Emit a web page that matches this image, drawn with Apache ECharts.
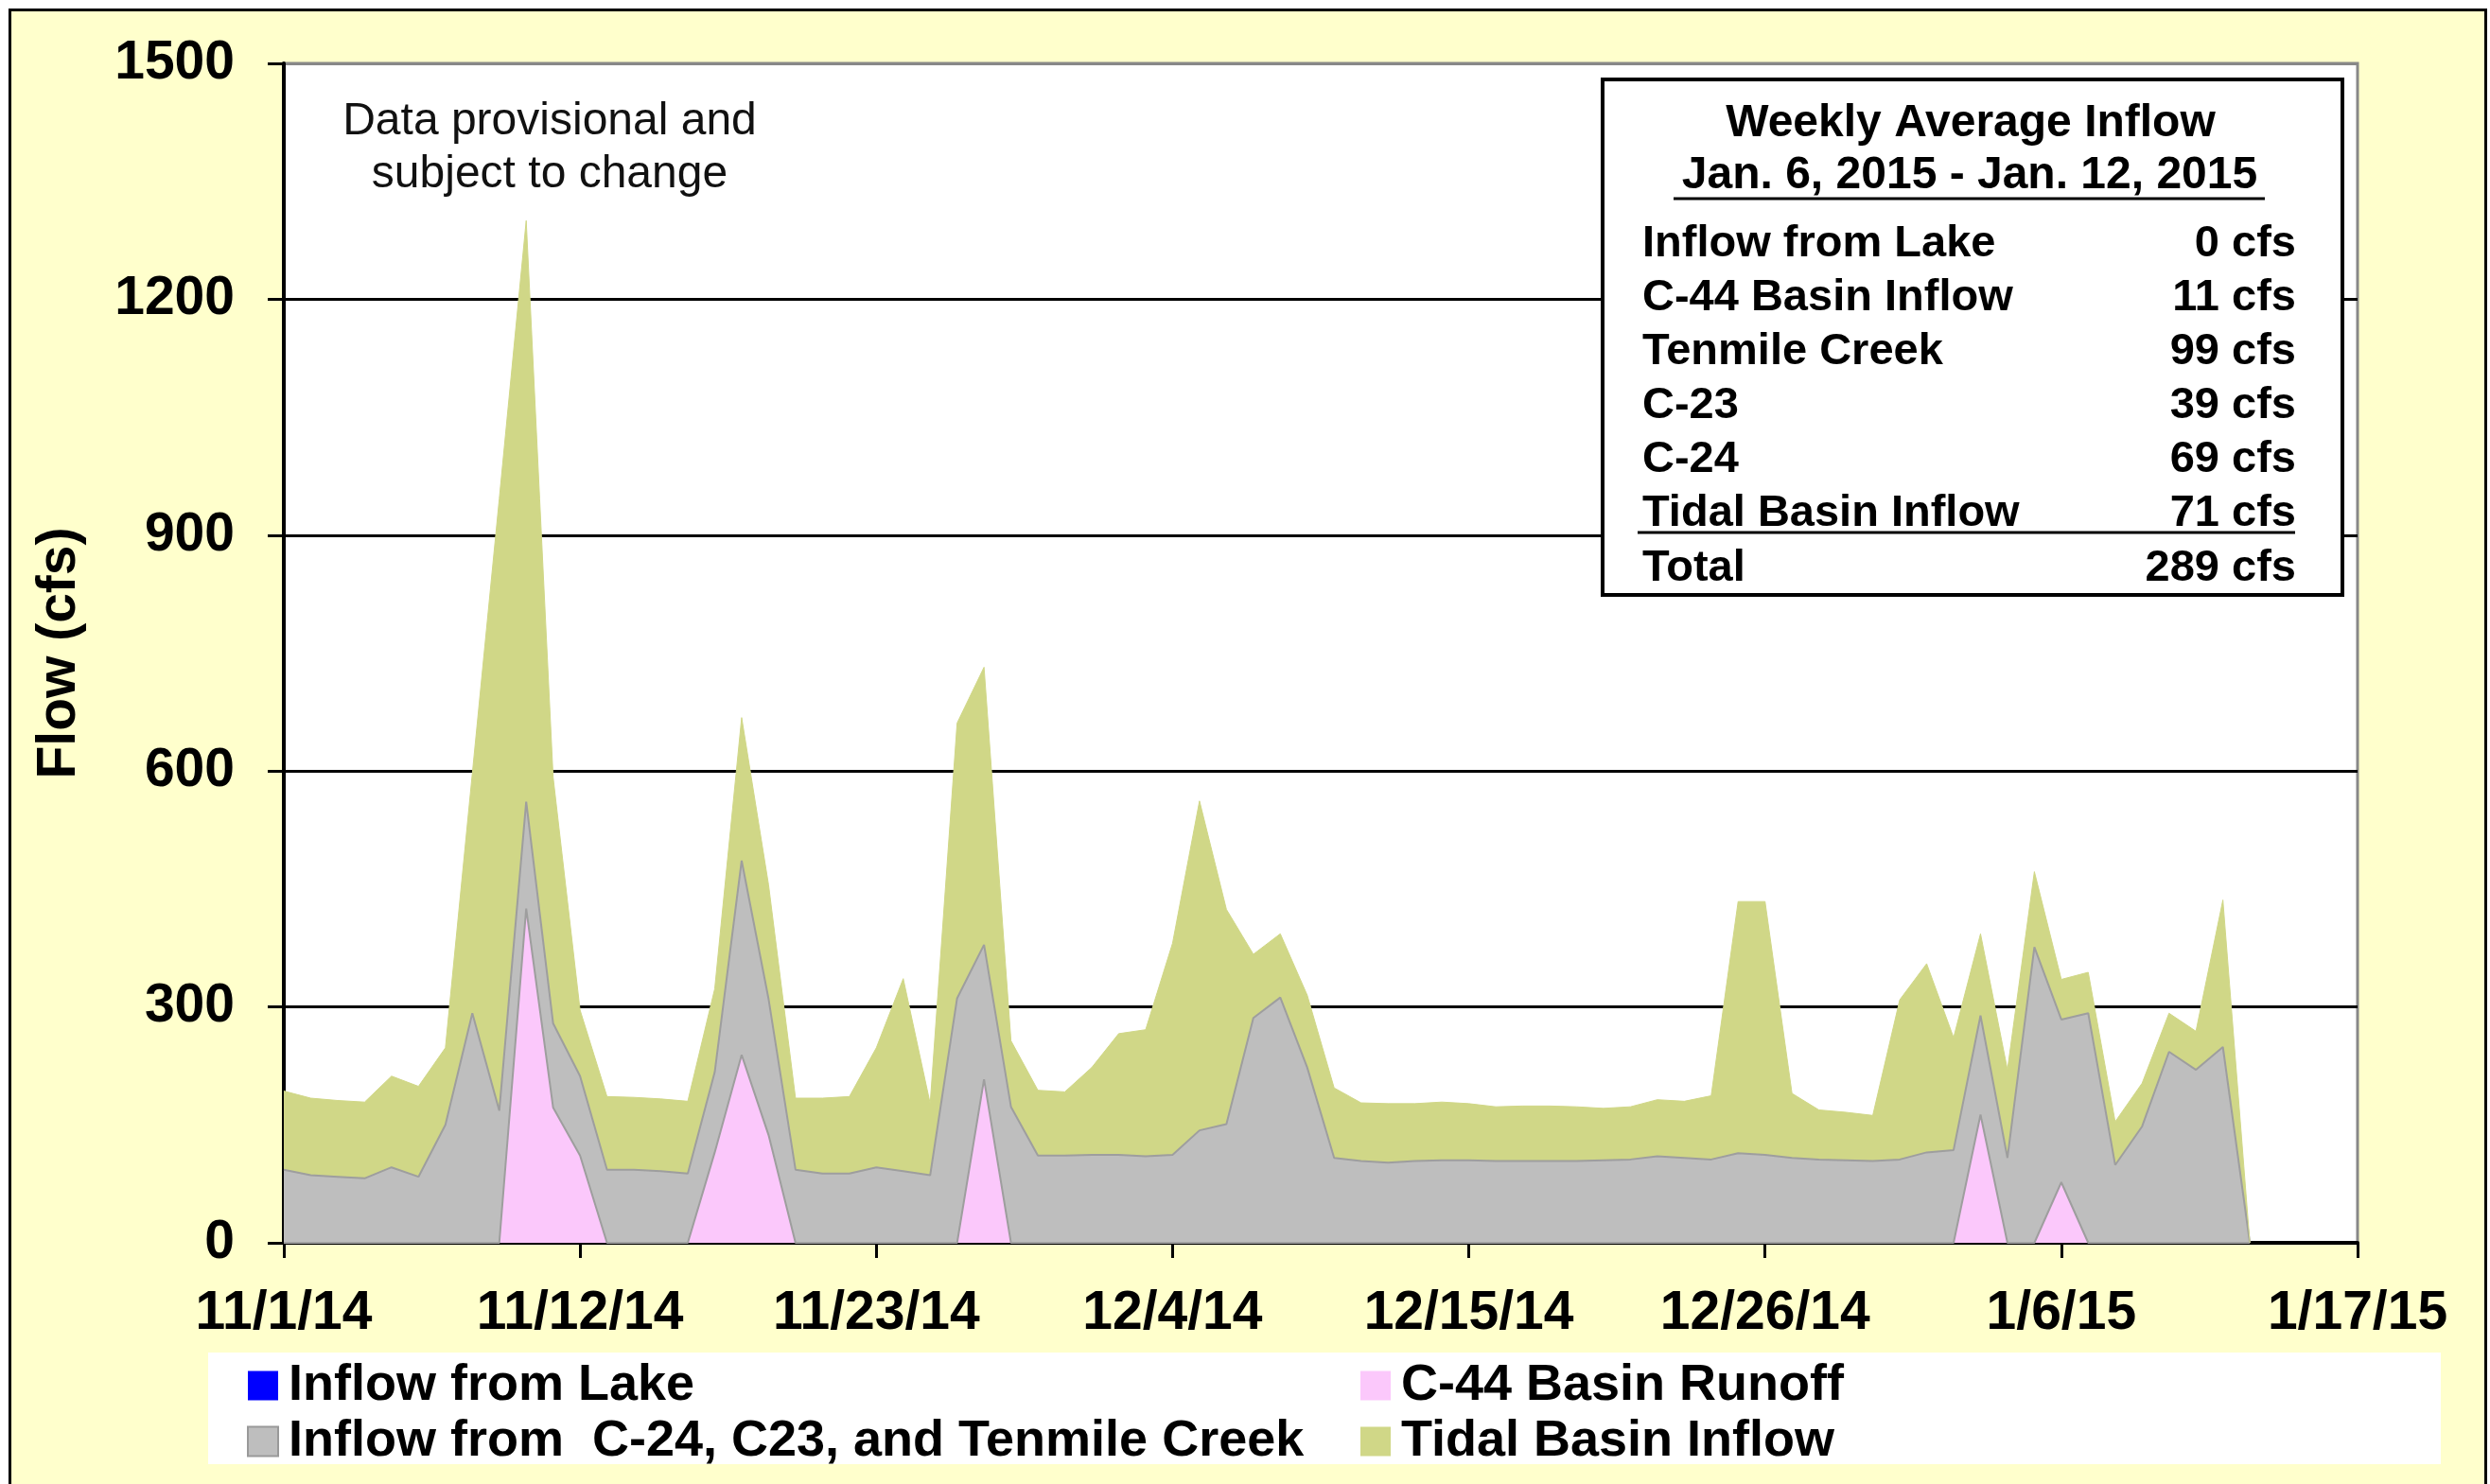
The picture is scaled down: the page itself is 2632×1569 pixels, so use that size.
<!DOCTYPE html>
<html>
<head>
<meta charset="utf-8">
<script src="https://cdn.jsdelivr.net/npm/echarts@6/dist/echarts.min.js"></script>
<style>
  html, body { margin: 0; padding: 0; background: #fff; }
  #chart { width: 2632px; height: 1569px; }
</style>
</head>
<body>
<div id="chart"></div>
<script>
// day index 0 = 11/1/14 ... 77 = 1/17/15, a tick every 11 days
const dayCount = 78;
const tickLabels = ["11/1/14", "11/12/14", "11/23/14", "12/4/14", "12/15/14", "12/26/14", "1/6/15", "1/17/15"];

const lakeInflow = [
  0, 0, 0, 0, 0, 0, 0, 0, 0, 0, 0, 0, 0, 0, 0, 0, 0, 0, 0, 0, 0, 0, 0, 0, 0,
  0, 0, 0, 0, 0, 0, 0, 0, 0, 0, 0, 0, 0, 0, 0, 0, 0, 0, 0, 0, 0, 0, 0, 0, 0,
  0, 0, 0, 0, 0, 0, 0, 0, 0, 0, 0, 0, 0, 0, 0, 0, 0, 0, 0, 0, 0, 0, 0, 0
];
const c44Runoff = [
  0, 0, 0, 0, 0, 0, 0, 0, 0, 425, 172, 111, 0, 0, 0, 0, 115, 239, 137, 0, 0, 0, 0, 0, 0,
  0, 208, 0, 0, 0, 0, 0, 0, 0, 0, 0, 0, 0, 0, 0, 0, 0, 0, 0, 0, 0, 0, 0, 0, 0,
  0, 0, 0, 0, 0, 0, 0, 0, 0, 0, 0, 0, 0, 163, 0, 0, 77, 0, 0, 0, 0, 0, 0, 0
];
const basinInflow = [
  93, 86, 84, 82, 96, 84, 150, 292, 168, 136, 107, 101, 93, 93, 91, 88, 102, 247, 173, 93, 88, 88, 96, 91, 86,
  311, 171, 173, 111, 111, 112, 112, 110, 112, 143, 151, 286, 312, 223, 108, 104, 102, 104, 105, 105, 104, 104, 104, 104, 105,
  106, 110, 108, 106, 114, 112, 108, 106, 105, 104, 106, 115, 118, 126, 108, 376, 207, 292, 99, 148, 243, 220, 249, 0
];
const tidalInflow = [
  100, 98, 97, 97, 116, 115, 98, 305, 778, 739, 313, 84, 93, 92, 92, 92, 106, 182, 145, 91, 96, 98, 152, 245, 91,
  350, 353, 84, 83, 81, 111, 154, 161, 269, 419, 273, 81, 81, 92, 89, 74, 75, 73, 74, 72, 69, 70, 70, 69, 66,
  67, 72, 72, 81, 320, 322, 82, 63, 61, 58, 203, 240, 143, 104, 112, 96, 51, 52, 55, 55, 49, 49, 187, 0
];

const summaryLabels = ["Inflow from Lake", "C-44 Basin Inflow", "Tenmile Creek", "C-23", "C-24", "Tidal Basin Inflow", "Total"];
const summaryValues = ["0 cfs", "11 cfs", "99 cfs", "39 cfs", "69 cfs", "71 cfs", "289 cfs"];

const FONT = "Liberation Sans, Arial, sans-serif";

const days = [];
for (let i = 0; i < dayCount; i++) days.push(String(i));

var chart = echarts.init(document.getElementById("chart"));

const rowY = [258, 315, 372, 429, 486, 543, 601];
const boxTexts = [];
summaryLabels.forEach((lab, i) => {
  boxTexts.push({
    type: "text", z: 12,
    style: { text: lab, x: 1736, y: rowY[i], font: "bold 47px " + FONT, fill: "#000", textAlign: "left", textVerticalAlign: "middle" }
  });
  boxTexts.push({
    type: "text", z: 12,
    style: { text: summaryValues[i], x: 2427, y: rowY[i], font: "bold 47px " + FONT, fill: "#000", textAlign: "right", textVerticalAlign: "middle" }
  });
});

var option = {
  backgroundColor: "#FFFFCC",
  animation: false,
  grid: {
    left: 300,
    right: 140,
    top: 67,
    bottom: 255,
    show: true,
    backgroundColor: "#fff",
    borderColor: "#888",
    borderWidth: 3,
  },
  xAxis: {
    type: "category",
    data: days,
    boundaryGap: false,
    axisLine: { show: true, onZero: false, lineStyle: { color: "#000", width: 4 } },
    axisTick: { show: true, interval: 10, length: 16, lineStyle: { color: "#000", width: 3 } },
    axisLabel: {
      interval: 10,
      color: "#000", fontSize: 57, fontWeight: "bold", fontFamily: FONT, margin: 47,
      formatter: (v) => tickLabels[Math.round(Number(v) / 11)] || "",
    },
    splitLine: { show: false },
  },
  yAxis: {
    type: "value",
    min: 0,
    max: 1500,
    interval: 300,
    name: "Flow (cfs)",
    nameLocation: "middle",
    nameRotate: 90,
    nameGap: 208,
    nameTextStyle: { color: "#000", fontSize: 57, fontWeight: "bold", fontFamily: FONT },
    axisLine: { show: true, lineStyle: { color: "#000", width: 4 } },
    axisTick: { show: true, length: 17, lineStyle: { color: "#000", width: 3 } },
    axisLabel: { color: "#000", fontSize: 57, fontWeight: "bold", fontFamily: FONT, margin: 52, formatter: (v) => String(v) },
    splitLine: {
      show: true,
      lineStyle: { color: ["#000", "#000", "#000", "#000", "#000", "#888"], width: 3 },
    },
  },
  legend: [
    {
      left: 256, top: 1432, orient: "vertical", z: 10,
      icon: "rect", itemWidth: 32, itemHeight: 31, itemGap: 3,
      textStyle: { color: "#000", fontSize: 54, fontWeight: "bold", fontFamily: FONT, lineHeight: 56, padding: [0, 0, 0, 6] },
      data: [
        { name: "Inflow from Lake" },
        { name: "Inflow from  C-24, C23, and Tenmile Creek", itemStyle: { borderColor: "#999", borderWidth: 2 } },
      ],
    },
    {
      left: 1433, top: 1432, orient: "vertical", z: 10,
      icon: "rect", itemWidth: 32, itemHeight: 31, itemGap: 3,
      textStyle: { color: "#000", fontSize: 54, fontWeight: "bold", fontFamily: FONT, lineHeight: 56, padding: [0, 0, 0, 6] },
      data: [{ name: "C-44 Basin Runoff" }, { name: "Tidal Basin Inflow" }],
    },
  ],
  series: [
    {
      name: "Inflow from Lake", type: "line", stack: "flow", symbol: "none",
      color: "#0000FF", lineStyle: { width: 0 }, areaStyle: { color: "#0000FF", opacity: 1 },
      data: lakeInflow,
    },
    {
      name: "C-44 Basin Runoff", type: "line", stack: "flow", symbol: "none",
      color: "#FBC8FB", lineStyle: { color: "#9e9e9e", width: 2 }, areaStyle: { color: "#FBC8FB", opacity: 1 },
      data: c44Runoff,
    },
    {
      name: "Inflow from  C-24, C23, and Tenmile Creek", type: "line", stack: "flow", symbol: "none",
      color: "#BEBEBE", lineStyle: { color: "#9e9e9e", width: 2 }, areaStyle: { color: "#BEBEBE", opacity: 1 },
      data: basinInflow,
    },
    {
      name: "Tidal Basin Inflow", type: "line", stack: "flow", symbol: "none",
      color: "#D0D787", lineStyle: { color: "#D0D787", width: 1 }, areaStyle: { color: "#D0D787", opacity: 1 },
      data: tidalInflow,
    },
  ],
  graphic: [
    // white margin outside the frame
    { type: "rect", z: 20, shape: { x: 0, y: 0, width: 2632, height: 9 }, style: { fill: "#fff" } },
    { type: "rect", z: 20, shape: { x: 0, y: 0, width: 9, height: 1569 }, style: { fill: "#fff" } },
    { type: "rect", z: 20, shape: { x: 2629, y: 0, width: 3, height: 1569 }, style: { fill: "#fff" } },
    { type: "rect", z: 21, shape: { x: 10.5, y: 10.5, width: 2617, height: 1600 }, style: { fill: null, stroke: "#000", lineWidth: 3 } },
    // legend box
    { type: "rect", z: 1, shape: { x: 220, y: 1430, width: 2360, height: 118 }, style: { fill: "#fff" } },
    // annotation
    {
      type: "text", z: 12,
      style: { text: "Data provisional and", x: 581, y: 129, font: "48px " + FONT, fill: "#111", textAlign: "center", textVerticalAlign: "middle" }
    },
    {
      type: "text", z: 12,
      style: { text: "subject to change", x: 581, y: 185, font: "48px " + FONT, fill: "#111", textAlign: "center", textVerticalAlign: "middle" }
    },
    // summary box
    { type: "rect", z: 11, shape: { x: 1694, y: 84, width: 782, height: 545 }, style: { fill: "#fff", stroke: "#000", lineWidth: 4 } },
    {
      type: "text", z: 12,
      style: { text: "Weekly Average Inflow", x: 2083, y: 131, font: "bold 48px " + FONT, fill: "#000", textAlign: "center", textVerticalAlign: "middle" }
    },
    {
      type: "text", z: 12,
      style: { text: "Jan. 6, 2015 - Jan. 12, 2015", x: 2082, y: 186, font: "bold 48px " + FONT, fill: "#000", textAlign: "center", textVerticalAlign: "middle" }
    },
    { type: "line", z: 12, shape: { x1: 1769, y1: 210, x2: 2394, y2: 210 }, style: { stroke: "#000", lineWidth: 3 } },
    { type: "line", z: 12, shape: { x1: 1731, y1: 563, x2: 2426, y2: 563 }, style: { stroke: "#000", lineWidth: 3 } },
  ].concat(boxTexts),
};

option && chart.setOption(option);
</script>
</body>
</html>
